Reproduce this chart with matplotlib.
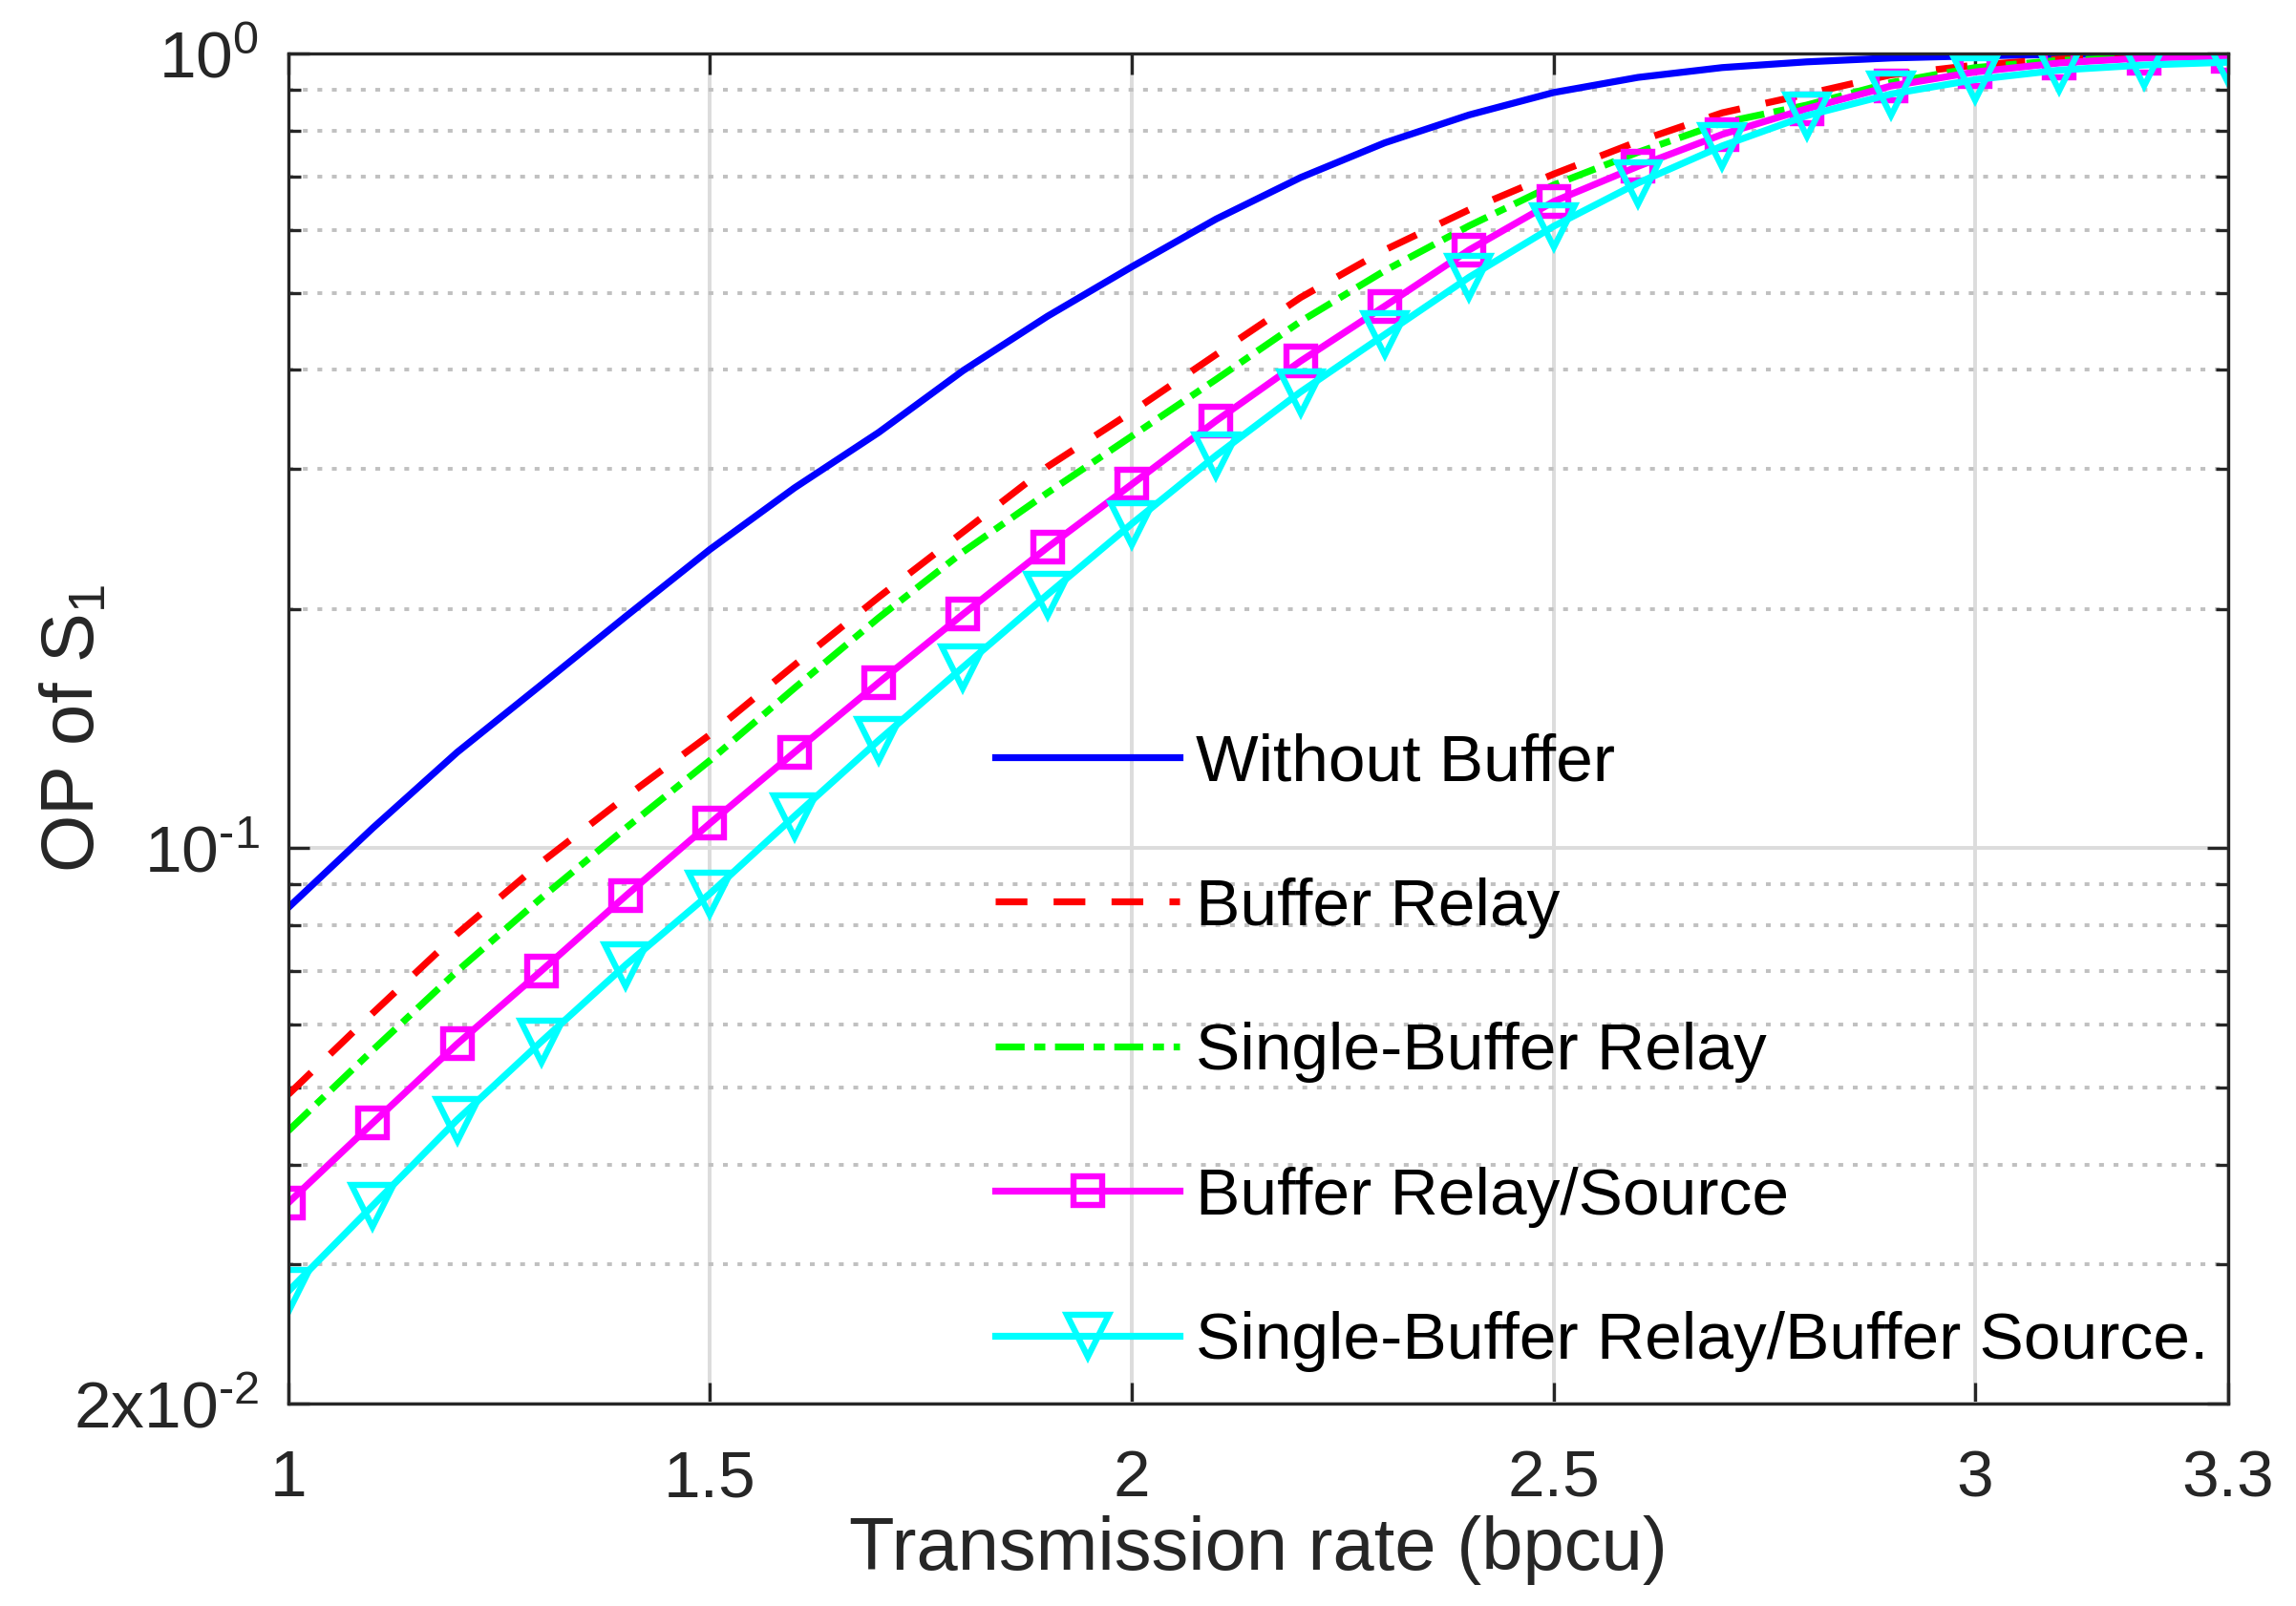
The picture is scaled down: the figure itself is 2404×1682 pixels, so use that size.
import matplotlib
matplotlib.use("Agg")
import matplotlib.pyplot as plt
from matplotlib.ticker import FixedLocator, NullFormatter

plt.rcParams['font.family'] = ['Liberation Sans', 'DejaVu Sans']
plt.rcParams['mathtext.fontset'] = 'custom'
plt.rcParams['mathtext.rm'] = 'Liberation Sans'
plt.rcParams['mathtext.it'] = 'Liberation Sans:italic'
plt.rcParams['mathtext.default'] = 'regular'

# ---- data ----
rate = [1.0, 1.1, 1.2, 1.3, 1.4, 1.5, 1.6, 1.7, 1.8, 1.9, 2.0, 2.1,
        2.2, 2.3, 2.4, 2.5, 2.6, 2.7, 2.8, 2.9, 3.0, 3.1, 3.2, 3.3]

without_buffer = [0.0842, 0.106, 0.132, 0.1606, 0.1957, 0.2377, 0.284, 0.3336,
                  0.399, 0.467, 0.539, 0.619, 0.698, 0.772, 0.837, 0.893,
                  0.933, 0.960, 0.976, 0.987, 0.993, 0.997, 0.999, 1.0]

buffer_relay = [0.049, 0.062, 0.078, 0.096, 0.116, 0.139, 0.170, 0.207,
                0.250, 0.302, 0.354, 0.418, 0.493, 0.566, 0.636, 0.705,
                0.775, 0.842, 0.889, 0.940, 0.967, 0.984, 0.994, 0.998]

single_buffer_relay = [0.0441, 0.0557, 0.070, 0.0866, 0.106, 0.129, 0.159, 0.195,
                       0.236, 0.280, 0.330, 0.389, 0.460, 0.533, 0.607, 0.683,
                       0.751, 0.818, 0.861, 0.919, 0.960, 0.980, 0.990, 0.995]

buffer_relay_source = [0.0358, 0.0451, 0.0567, 0.0701, 0.0871, 0.1075, 0.132, 0.1616,
                       0.197, 0.239, 0.287, 0.345, 0.410, 0.481, 0.566, 0.651,
                       0.721, 0.791, 0.852, 0.910, 0.948, 0.973, 0.987, 0.992]

single_relay_buffer_source = [0.0277, 0.0355, 0.0455, 0.0571, 0.0713, 0.0877, 0.1097, 0.1367,
                              0.169, 0.2085, 0.256, 0.312, 0.375, 0.443, 0.523, 0.606,
                              0.687, 0.765, 0.835, 0.889, 0.927, 0.953, 0.967, 0.975]

labels = ['Without Buffer', 'Buffer Relay', 'Single-Buffer Relay',
          'Buffer Relay/Source', 'Single-Buffer Relay/Buffer Source.']

x_ticks = [1, 1.5, 2, 2.5, 3, 3.3]
x_ticklabels = ['1', '1.5', '2', '2.5', '3', '3.3']
y_ticks = [0.02, 0.1, 1.0]
y_ticklabels = ['2x$10^{\\text{-}2}$', '$10^{\\text{-}1}$', '$10^{0}$']
y_minor = [0.03, 0.04, 0.05, 0.06, 0.07, 0.08, 0.09,
           0.2, 0.3, 0.4, 0.5, 0.6, 0.7, 0.8, 0.9]

# ---- figure ----
fig = plt.figure(figsize=(12.02, 8.41), dpi=200)
ax = fig.add_axes([0.1256, 0.126, 0.9705 - 0.1256, 0.9667 - 0.126])

lw = 2.6
ax.plot(rate, without_buffer, color=(0, 0, 1), lw=lw, label=labels[0])
ax.plot(rate, buffer_relay, color=(1, 0, 0), lw=lw, dashes=(4.6, 3.8), label=labels[1])
ax.plot(rate, single_buffer_relay, color=(0, 1, 0), lw=lw, dashes=(4.2, 1.4, 1.6, 1.4),
        label=labels[2])
ax.plot(rate, buffer_relay_source, color=(1, 0, 1), lw=lw, marker='s', markersize=10.5,
        markerfacecolor='none', markeredgewidth=2.3, label=labels[3])
ax.plot(rate, single_relay_buffer_source, color=(0, 1, 1), lw=lw, marker='v', markersize=15.5,
        markerfacecolor='none', markeredgewidth=2.3, label=labels[4])

ax.set_yscale('log')
ax.set_xlim(1, 3.3)
ax.set_ylim(0.02, 1.0)

ax.set_xticks(x_ticks)
ax.set_xticklabels(x_ticklabels)
ax.set_yticks(y_ticks)
ax.set_yticklabels(y_ticklabels)
ax.yaxis.set_minor_locator(FixedLocator(y_minor))
ax.yaxis.set_minor_formatter(NullFormatter())
ax.xaxis.set_minor_locator(FixedLocator([]))

axc = '#262626'
for s in ax.spines.values():
    s.set_linewidth(1.2)
    s.set_color(axc)
ax.tick_params(which='both', direction='in', top=True, right=True, colors=axc,
               width=1.2, labelsize=25, labelcolor=axc)
ax.tick_params(which='major', length=8)
ax.tick_params(which='minor', length=4.8)
ax.tick_params(axis='x', which='major', pad=17)
ax.tick_params(axis='y', which='major', pad=11)

ax.grid(True, which='major', axis='both', color='#dcdcdc', lw=1.4, ls='-')
ax.grid(True, which='minor', axis='y', color='#c0c0c0', lw=1.4, ls=(0, (1.3, 2.6)))
ax.set_axisbelow(True)

ax.set_xlabel('Transmission rate (bpcu)', fontsize=28, color=axc, labelpad=2)
ax.set_ylabel('OP of S$_1$', fontsize=28, color=axc)
ax.yaxis.set_label_coords(-0.092, 0.5)

leg = ax.legend(loc='upper left', bbox_to_anchor=(1042 / 2404, 1 - 767 / 1682),
                bbox_transform=fig.transFigure, frameon=False, fontsize=25,
                handlelength=2.78, handletextpad=0.24, labelspacing=1.26,
                borderpad=0, borderaxespad=0)

fig.savefig('out.png', dpi=200, facecolor='white')
